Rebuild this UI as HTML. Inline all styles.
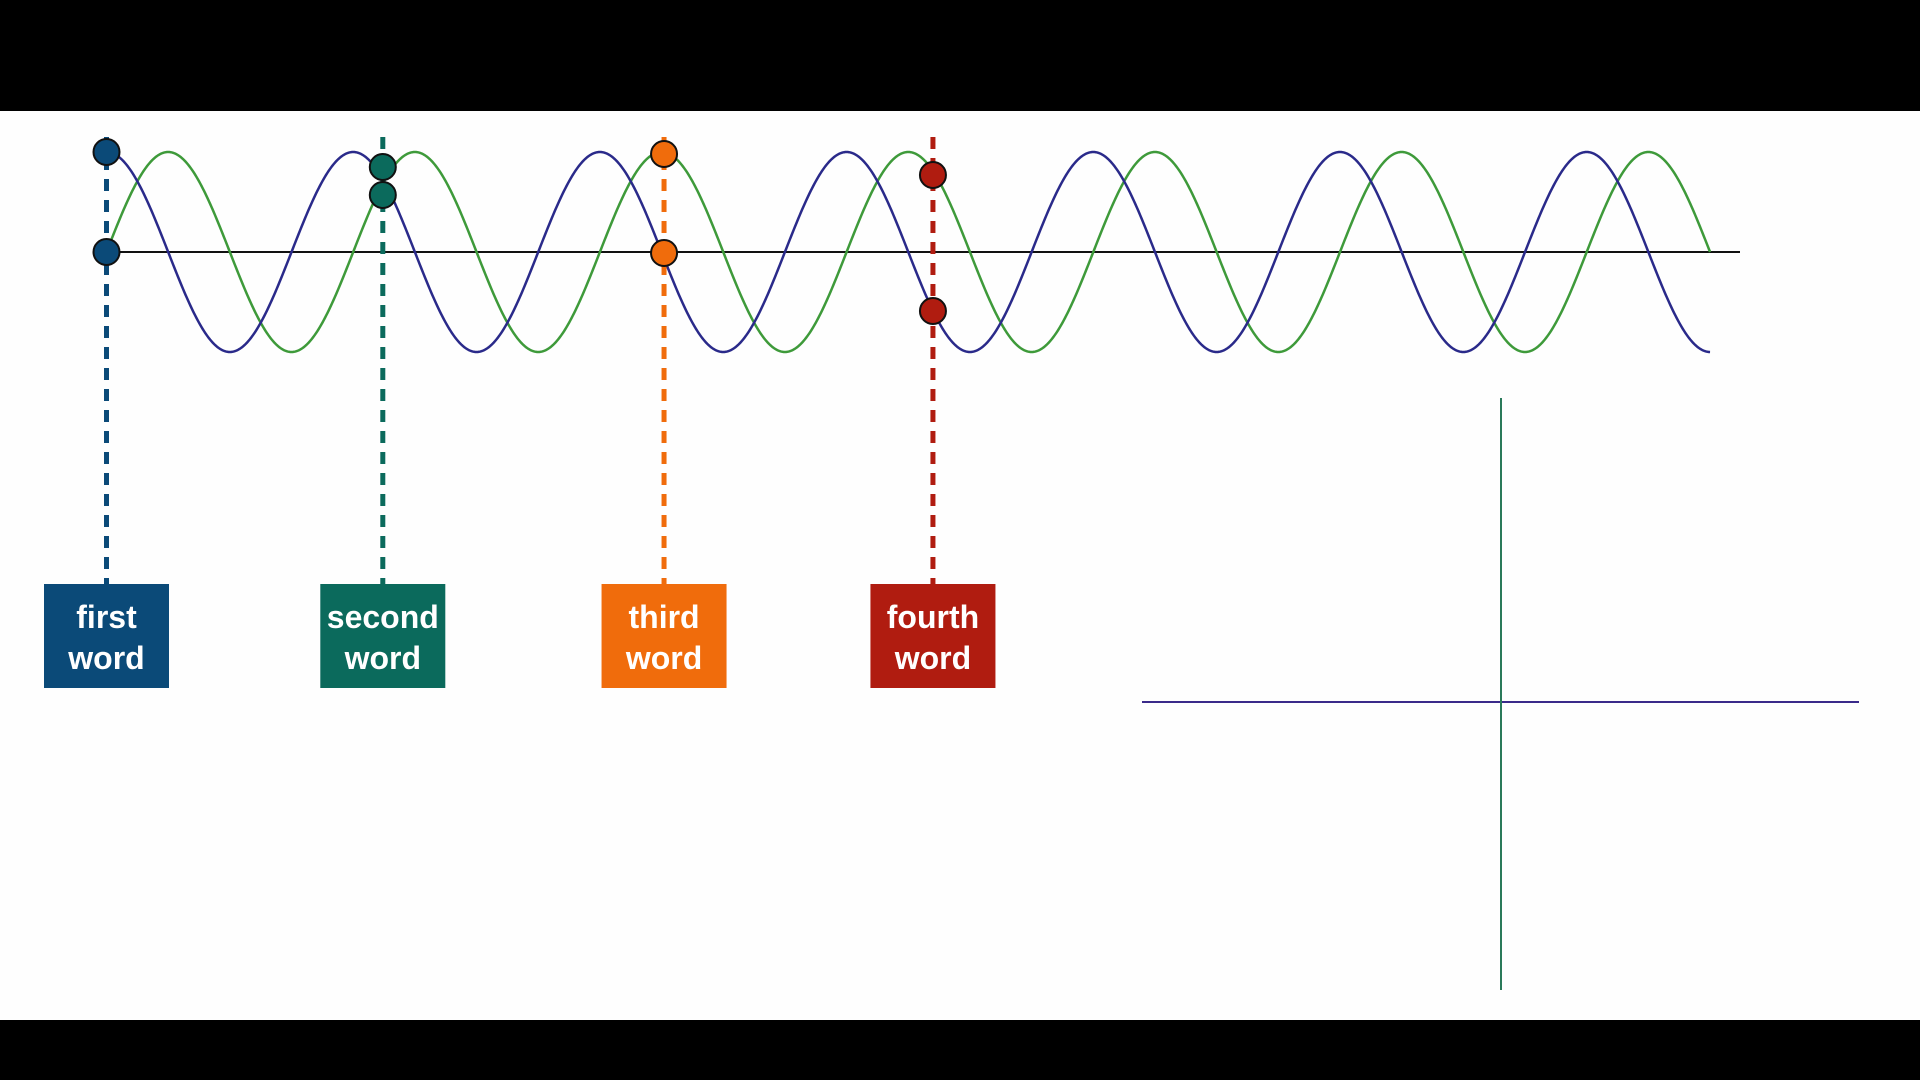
<!DOCTYPE html>
<html><head><meta charset="utf-8"><style>
html,body{margin:0;padding:0;width:1920px;height:1080px;overflow:hidden;background:#000;font-family:"Liberation Sans",sans-serif}
svg{display:block}
</style></head><body>
<svg id="chart" width="1920" height="1080" xmlns="http://www.w3.org/2000/svg">
<rect x="0" y="0" width="1920" height="1080" fill="#000"/>
<rect x="0" y="111" width="1920" height="909" fill="#fefefe"/>
</svg>
<script>
const wordLabels = [["first","word"],["second","word"],["third","word"],["fourth","word"]];
const wordPeriods = [0, 1.12, 2.26, 3.35];
const wordUpperVals = [1.0, 0.85, 0.98, 0.77];
const wordLowerVals = [0.0, 0.57, -0.01, -0.59];
const wordColors = ["#0b4a78","#0b6a5c","#f06c0c","#b01c10"];
const totalPeriods = 6.5;

const svg = document.getElementById('chart');
const NS = 'http://www.w3.org/2000/svg';
const x0 = 106.5, periodPx = 246.7, axisY = 252, amp = 100;
const xScale = p => x0 + p * periodPx;
const yScale = v => axisY - v * amp;
function mk(tag, attrs){const e=document.createElementNS(NS,tag);for(const k in attrs)e.setAttribute(k,attrs[k]);svg.appendChild(e);return e;}

const ax = mk('line',{x1:x0,y1:axisY,x2:1740,y2:axisY,stroke:'#111','stroke-width':2});



function wavePath(fn){let d='';for(let i=0;i<=1300;i++){const p=totalPeriods*i/1300;const t=p*2*Math.PI;d+=(i?'L':'M')+xScale(p).toFixed(2)+' '+yScale(fn(t)).toFixed(2);}return d;}
const g = mk('path',{d:wavePath(Math.sin),fill:'none',stroke:'#3e9a3a','stroke-width':2.5});


const b = mk('path',{d:wavePath(Math.cos),fill:'none',stroke:'#2a2a8a','stroke-width':2.5});



wordPeriods.forEach((p,i)=>{
  const x = xScale(p), c = wordColors[i];
  const dl = mk('line',{x1:x,y1:137,x2:x,y2:584,stroke:c,'stroke-width':5,'stroke-dasharray':'12 9'});
  
  
  [wordUpperVals[i],wordLowerVals[i]].forEach(v=>{
    const d = mk('circle',{cx:x,cy:yScale(v),r:13,fill:c,stroke:'#111','stroke-width':2});
    
    
  });
  const bx = x - 62.5;
  const r = mk('rect',{x:bx,y:584,width:125,height:104,fill:c});
  
  
  wordLabels[i].forEach((s,j)=>{
    const tx = mk('text',{x:x,y:628+j*41,'text-anchor':'middle',fill:'#fff','font-size':32,'font-weight':'bold','font-family':'Liberation Sans, sans-serif'});
    tx.textContent = s;
    
    
  });
});

const h = mk('line',{x1:1142,y1:702,x2:1859,y2:702,stroke:'#3a2a8a','stroke-width':2});


const v = mk('line',{x1:1501,y1:398,x2:1501,y2:990,stroke:'#2a7a5a','stroke-width':2});


</script>
</body></html>
